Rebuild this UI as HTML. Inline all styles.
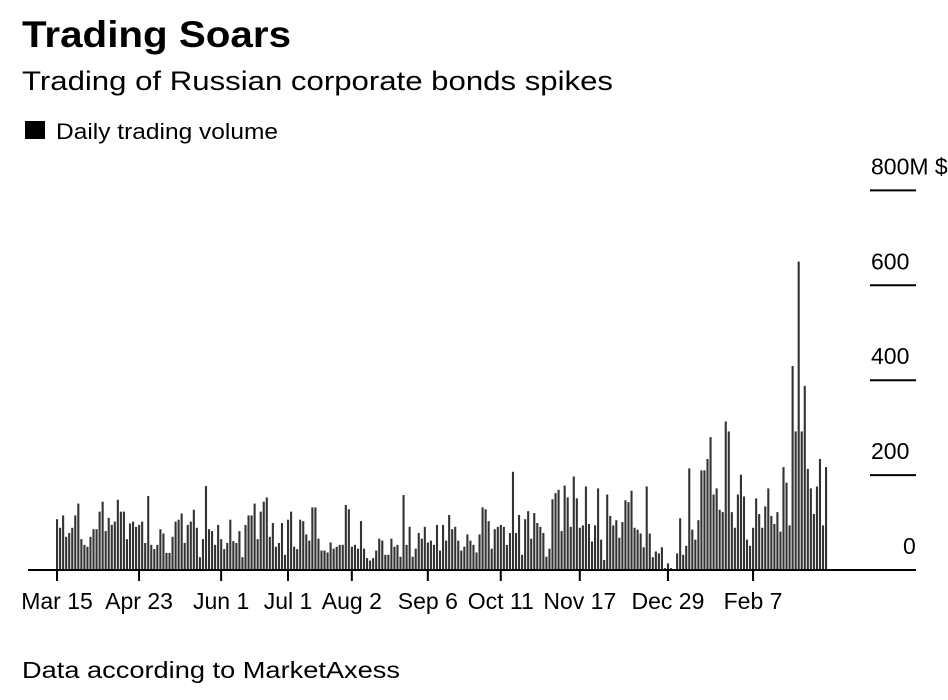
<!DOCTYPE html>
<html><head><meta charset="utf-8"><style>
body{margin:0;background:#fff;font-family:"Liberation Sans",sans-serif;}
#wrap{position:relative;width:948px;height:700px;overflow:hidden;}
</style></head><body>
<div id="wrap">
<svg id="svg" width="948" height="700">
<text x="22" y="47" font-size="37" font-weight="bold" fill="#000" textLength="269" lengthAdjust="spacingAndGlyphs">Trading Soars</text>
<text x="22" y="90" font-size="27" fill="#000" textLength="591" lengthAdjust="spacingAndGlyphs">Trading of Russian corporate bonds spikes</text>
<rect x="25" y="121" width="20" height="18" fill="#000"/>
<text x="56" y="139" font-size="22" fill="#000" textLength="222" lengthAdjust="spacingAndGlyphs">Daily trading volume</text>
<text x="22" y="678" font-size="23" fill="#000" textLength="378" lengthAdjust="spacingAndGlyphs">Data according to MarketAxess</text>
<g id="grid"></g><g id="bars"></g><g id="xaxis"></g>
</svg>
</div>
<script>
const values=[107,89,115,70,78,89,115,140,65,53,49,70,86,86,123,144,82,110,95,102,148,123,123,65,98,102,91,95,102,57,156,53,44,53,86,77,36,36,70,102,106,119,57,95,102,127,89,27,65,177,86,82,53,95,65,44,57,106,61,57,82,27,95,115,115,140,65,123,144,153,70,99,49,57,99,32,106,123,49,44,106,
103,75,62,132,132,66,41,41,37,58,45,49,53,53,137,128,49,53,45,103,45,25,20,25,41,66,62,32,32,66,49,53,28,158,53,91,28,45,78,66,91,58,62,53,95,41,95,62,116,86,91,62,41,49,75,62,53,37,75,132,128,103,45,86,91,95,91,53,78,207,78,116,32,107,124,66,120,99,91,78,28,45,149,162,169,82,178,153,91,
197,151,89,94,176,97,60,94,172,64,21,159,114,94,105,68,101,147,143,167,89,85,77,48,176,77,27,39,35,48,4,14,4,0,35,109,32,51,214,85,64,105,210,210,234,280,159,172,127,122,313,292,122,89,159,201,155,64,51,89,151,118,89,134,172,114,97,122,81,217,184,94,430,292,650,292,388,213,172,118,176,234,94,217];
const yTicks=[0,200,400,600,800];
const yTickLabels=["0","200","400","600","800M $"];
const tickIdx=[0,27,54,76,97,122,146,172,201,229];
const tickLabels=["Mar 15","Apr 23","Jun 1","Jul 1","Aug 2","Sep 6","Oct 11","Nov 17","Dec 29","Feb 7"];
const NS="http://www.w3.org/2000/svg";
const x0=57,x1=826,y0=570,pxPerM=0.4745;
const step=(x1-x0)/(values.length-1);
const xs=i=>x0+i*step;
const ys=v=>y0-v*pxPerM;
function mk(t,a,p){const e=document.createElementNS(NS,t);for(const k in a)e.setAttribute(k,a[k]);p.appendChild(e);return e;}
const grid=document.getElementById('grid'),bars=document.getElementById('bars'),xa=document.getElementById('xaxis');
yTicks.forEach((v,i)=>{
 if(v>0){const l=mk('line',{x1:870,x2:916,y1:ys(v),y2:ys(v),stroke:'#000','stroke-width':2},grid);
 
 }
 const t=mk('text',{x:v===0?903:871,y:ys(v)-16,'font-size':23,fill:'#000'},grid);
 t.textContent=yTickLabels[i];
 
 
});
values.forEach((v,i)=>{
 const r=mk('rect',{x:xs(i)-1,y:ys(v),width:2.1,height:Math.max(v*pxPerM,0.5),fill:'#333'},bars);
 
 
});
const ax=mk('line',{x1:28,x2:916,y1:y0,y2:y0,stroke:'#000','stroke-width':2},xa);


tickIdx.forEach((ti,i)=>{
 const x=xs(ti);
 const l=mk('line',{x1:x,x2:x,y1:y0,y2:y0+11,stroke:'#000','stroke-width':2},xa);
 
 
 const t=mk('text',{x:x,y:609,'font-size':23,fill:'#000','text-anchor':'middle'},xa);
 t.textContent=tickLabels[i];
 
 
});
</script>
</body></html>
